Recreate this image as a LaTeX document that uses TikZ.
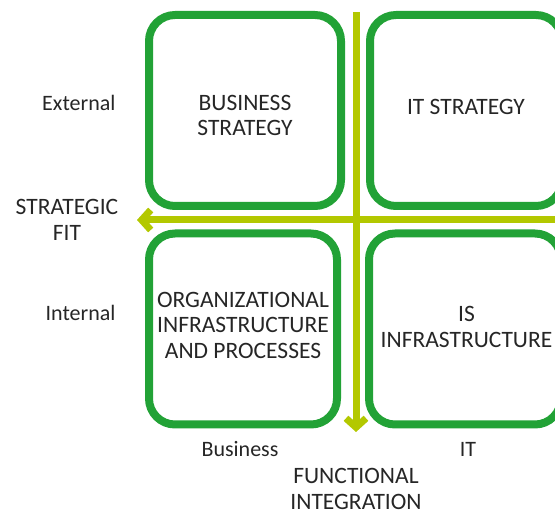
\documentclass[tikz,border=0pt]{standalone}
\usepackage{fontspec}
\setmainfont{Carlito}
\usetikzlibrary{arrows.meta}

\definecolor{boxgreen}{HTML}{22A236}
\definecolor{axislime}{HTML}{B3C800}
\definecolor{textgray}{HTML}{262626}

\begin{document}
\begin{tikzpicture}[x=1pt, y=-1pt, every node/.style={text=textgray, font=\fontsize{23.5}{25.5}\selectfont, align=center},
    quadrant/.style={draw=boxgreen, line width=8pt, rounded corners=26pt, minimum width=192pt, minimum height=191pt, inner sep=0pt},
    axis/.style={draw=axislime, line width=7pt, -{Straight Barb[length=9pt, width=20pt]}},
    side/.style={font=\fontsize{22}{25}\selectfont}]
            \clip (0,0) rectangle (555,513);
            % quadrants
            \node[quadrant] (BS) at (245,110.5) {};
            \node[quadrant] (ITS) at (466,110.5) {};
            \node[quadrant, minimum width=188pt] (OI) at (243,329) {};
            \node[quadrant] (ISI) at (465,329) {};
            \node (bstext) at (245,115.5) {BUSINESS\\STRATEGY};
            \node (itstext) at (466,107) {IT STRATEGY};
            \node (oitext) at (243,325) {ORGANIZATIONAL\\INFRASTRUCTURE\\AND PROCESSES};
            \node (isitext) at (466.5,327) {IS\\INFRASTRUCTURE};
            % axes
            \coordinate (top) at (356,12); \coordinate (bottom) at (356,432);
            \coordinate (right) at (560,220); \coordinate (left) at (137,220);
            \draw[axis] (top) -- (bottom);
            \draw[axis] (right) -- (left);
            % labels
            \node[side, anchor=east] (ext) at (119,103) {External};
            \node[side, anchor=east] (int) at (119,313) {Internal};
            \node (fit) at (67,220) {STRATEGIC\\FIT};
            \node[side] (bus) at (240,449) {Business};
            \node[side] (it) at (468,449) {IT};
            \node (fun) at (356,489) {FUNCTIONAL\\INTEGRATION};
        \end{tikzpicture}
\end{document}
